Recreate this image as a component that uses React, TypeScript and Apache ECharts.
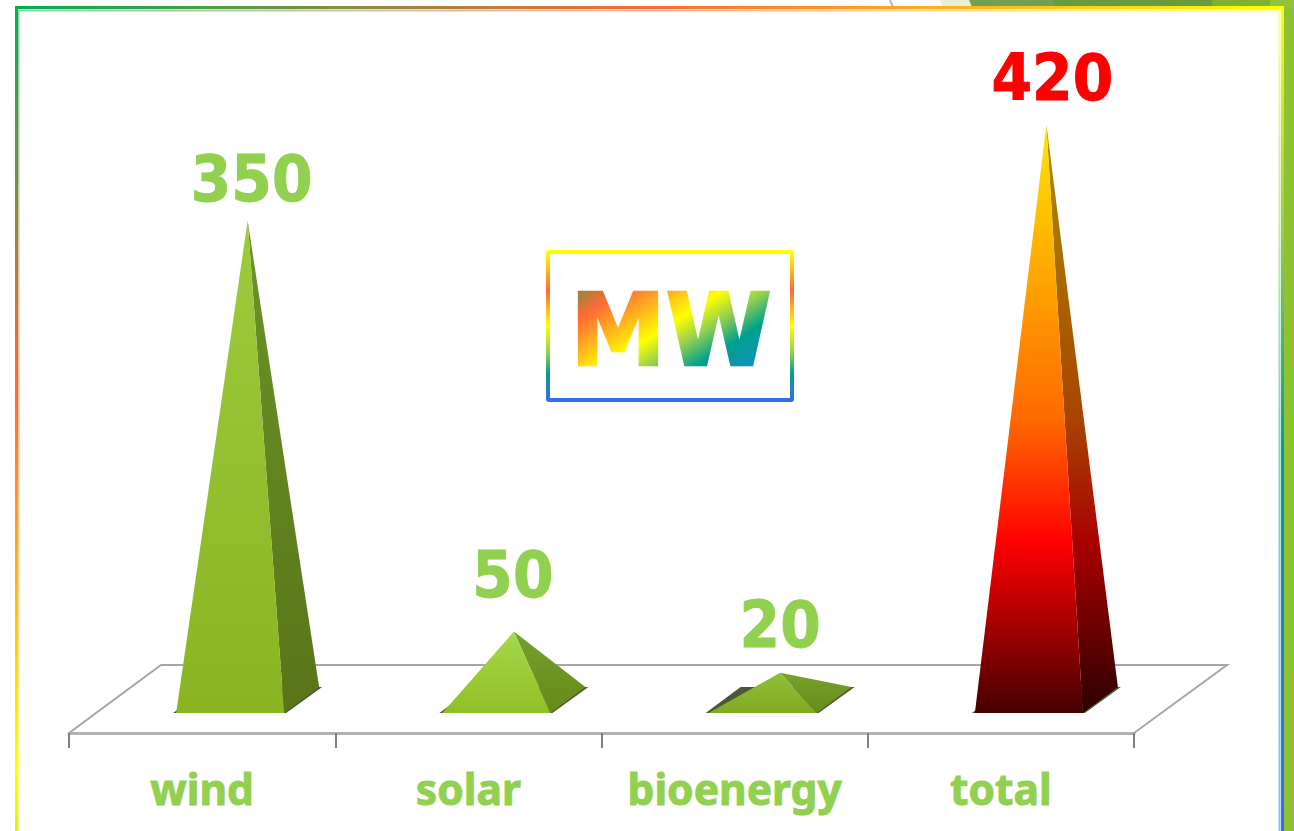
import React, { useEffect, useRef } from "react";
import * as echarts from "echarts";

const categories = ["wind", "solar", "bioenergy", "total"];
const values = [350, 50, 20, 420];
const unitLabel = "MW";

const WIDTH = 1294;
const HEIGHT = 831;
const HALF_BASE = 54;
const BASE_SHIFT_X = 28;
const DEPTH_X = 35;
const DEPTH_Y = 26;
const LABEL_DX = [4, -1, 0, 6];
const LABEL_DY = [-42, -57, -48, -47];
const LABEL_GREEN = "#92d050";
const LABEL_FONT = 'bold 64px "DejaVu Sans"';

const RAINBOW = [
  { offset: 0, color: "#00b050" },
  { offset: 0.24, color: "#ff6a35" },
  { offset: 0.48, color: "#ffff00" },
  { offset: 0.62, color: "#92d050" },
  { offset: 0.76, color: "#00a08c" },
  { offset: 1, color: "#2f6fed" },
];

const UNIT_STOPS: [number, string][] = [
  [0, "#8a8a3c"],
  [0.16, "#ff6a35"],
  [0.3, "#ffaa20"],
  [0.48, "#ffff00"],
  [0.62, "#92d050"],
  [0.77, "#00a08c"],
  [0.95, "#1090b8"],
];

const vGrad = (stops: [number, string][]) => ({
  type: "linear",
  x: 0,
  y: 0,
  x2: 0,
  y2: 1,
  colorStops: stops.map(([offset, color]) => ({ offset, color })),
});

const faces = [
  { front: [[0, "#9ccb3e"], [1, "#8ab522"]], side: [[0, "#6a9428"], [1, "#597518"]] },
  { front: [[0, "#a5d84c"], [1, "#90c024"]], side: [[0, "#76a02c"], [1, "#648a1a"]] },
  { front: [[0, "#90c038"], [1, "#80aa20"]], side: [[0, "#78a02c"], [1, "#648c18"]] },
  {
    front: [[0, "#ffe600"], [0.5, "#ff6a00"], [0.71, "#ff0000"], [1, "#450000"]],
    side: [[0, "#a89000"], [0.5, "#a84400"], [0.71, "#aa0000"], [1, "#2c0000"]],
  },
] as { front: [number, string][]; side: [number, string][] }[];

function renderPyramid(params: any, api: any) {
  const i = params.dataIndex;
  const value = api.value(1);
  const [cx, apexY] = api.coord([i, value]);
  const [, zeroY] = api.coord([i, 0]);
  const baseX = cx + BASE_SHIFT_X;
  const frontY = zeroY + DEPTH_Y / 2;
  const backY = zeroY - DEPTH_Y / 2;
  const fl = [baseX - HALF_BASE, frontY];
  const fr = [baseX + HALF_BASE, frontY];
  const br = [baseX + HALF_BASE + DEPTH_X, backY];
  const bl = [baseX - HALF_BASE + DEPTH_X, backY];
  const apex = [baseX + DEPTH_X / 2, apexY];
  const isTotal = i === categories.length - 1;
  return {
    type: "group",
    children: [
      {
        type: "polygon",
        shape: {
          points: [
            [fl[0] - 3, fl[1]],
            [fr[0] + 2, fr[1]],
            [br[0] + 3, br[1]],
            [bl[0] - 3, bl[1]],
          ],
        },
        style: { fill: "#2e3a14", opacity: 0.85 },
      },
      {
        type: "polygon",
        shape: { points: [fr, br, apex] },
        style: { fill: vGrad(faces[i].side) },
      },
      {
        type: "polygon",
        shape: { points: [fl, fr, apex] },
        style: { fill: vGrad(faces[i].front) },
      },
      {
        type: "text",
        x: apex[0] + LABEL_DX[i],
        y: apexY + LABEL_DY[i],
        scaleX: 0.91,
        style: {
          text: String(value),
          fill: isTotal ? "#ff0000" : LABEL_GREEN,
          stroke: isTotal ? "#ff0000" : LABEL_GREEN,
          lineWidth: 1,
          font: LABEL_FONT,
          align: "center",
          verticalAlign: "middle",
        },
      },
    ],
  };
}

// ECharts text has no gradient fill, so the unit text's real SVG <text> gets one here.
function paintUnitText(root: HTMLElement) {
  const svg = root.querySelector("svg");
  if (!svg) return;
  const text = Array.from(svg.querySelectorAll("text")).find((t) => t.textContent === unitLabel) as any;
  if (!text) return;
  const NS = "http://www.w3.org/2000/svg";
  const grad = document.createElementNS(NS, "linearGradient");
  grad.setAttribute("id", "unit-text-gradient");
  grad.setAttribute("gradientUnits", "userSpaceOnUse");
  grad.setAttribute("x1", "574");
  grad.setAttribute("y1", "290");
  grad.setAttribute("x2", "665");
  grad.setAttribute("y2", "432");
  const m = text.getCTM().inverse();
  grad.setAttribute("gradientTransform", `matrix(${m.a} ${m.b} ${m.c} ${m.d} ${m.e} ${m.f})`);
  UNIT_STOPS.forEach(([offset, color]) => {
    const stop = document.createElementNS(NS, "stop");
    stop.setAttribute("offset", String(offset));
    stop.setAttribute("stop-color", color);
    grad.appendChild(stop);
  });
  const defs = document.createElementNS(NS, "defs");
  defs.appendChild(grad);
  svg.appendChild(defs);
  text.setAttribute("fill", "url(#unit-text-gradient)");
  text.style.fill = "url(#unit-text-gradient)";
  text.style.stroke = "url(#unit-text-gradient)";
  text.style.strokeWidth = "2.5px";
  text.style.strokeLinejoin = "miter";
}

export default function App() {
  const ref = useRef<HTMLDivElement>(null);
  useEffect(() => {
    if (!ref.current) return;
    const chart = echarts.init(ref.current, undefined, { renderer: "svg" });
    const frameGrad = {
      type: "linear",
      global: true,
      x: 15,
      y: 8,
      x2: 713,
      y2: 1172,
      colorStops: RAINBOW,
    };
    chart.setOption({
      animation: false,
      backgroundColor: "#ffffff",
      grid: { left: 69, right: WIDTH - 1134, top: 48, bottom: HEIGHT - 733 },
      xAxis: {
        type: "category",
        data: categories,
        boundaryGap: true,
        axisLine: { onZero: false, lineStyle: { color: "#b2b2b2", width: 3 } },
        axisTick: { show: true, length: 15, lineStyle: { color: "#808080", width: 2 } },
        axisLabel: {
          interval: 0,
          color: LABEL_GREEN,
          fontFamily: "Noto Sans",
          fontWeight: "bold",
          fontSize: 42.5,
          margin: 34,
          textBorderColor: LABEL_GREEN,
          textBorderWidth: 1,
        },
      },
      yAxis: {
        type: "value",
        min: -24,
        max: 476,
        show: false,
        splitLine: { show: false },
      },
      series: [
        {
          type: "custom",
          z: 5,
          clip: false,
          renderItem: renderPyramid,
          encode: { x: 0, y: 1 },
          data: categories.map((_, i) => [i, values[i]]),
        },
      ],
      graphic: [
        { type: "rect", z: 0, shape: { x: 1284, y: 0, width: 10, height: 831 }, style: { fill: "#8fc232" } },
        { type: "polygon", z: 0, shape: { points: [[940, 0], [969, 0], [973, 7], [943, 7]] }, style: { fill: "#e6f0d6" } },
        { type: "polygon", z: 0, shape: { points: [[969, 0], [1054, 0], [1054, 7], [972, 7]] }, style: { fill: "#729f52" } },
        { type: "rect", z: 0, shape: { x: 1054, y: 0, width: 158, height: 7 }, style: { fill: "#6a9a40" } },
        { type: "rect", z: 0, shape: { x: 1212, y: 0, width: 58, height: 7 }, style: { fill: "#80b030" } },
        { type: "rect", z: 0, shape: { x: 1270, y: 0, width: 24, height: 7 }, style: { fill: "#92c33a" } },
        { type: "line", z: 0, shape: { x1: 890, y1: 0, x2: 893, y2: 7 }, style: { stroke: "#b8b8b8", lineWidth: 2 } },
        {
          type: "rect",
          z: 1,
          shape: { x: 18.5, y: 10.5, width: 1261, height: 900 },
          style: { fill: "none", stroke: frameGrad, lineWidth: 2, opacity: 0.5 },
        },
        {
          type: "rect",
          z: 1,
          shape: { x: 16.5, y: 7.5, width: 1266, height: 900 },
          style: { fill: "none", stroke: frameGrad, lineWidth: 3 },
        },
        {
          type: "polyline",
          z: 1,
          shape: { points: [[69, 733], [161, 665], [1227, 665], [1134, 733]] },
          style: { fill: "none", stroke: "#a6a6a6", lineWidth: 2 },
        },
        {
          type: "rect",
          z: 6,
          shape: { x: 548, y: 252, width: 244, height: 148, r: 1 },
          style: {
            fill: "none",
            lineWidth: 4,
            stroke: {
              type: "linear",
              x: 0,
              y: 0,
              x2: 0,
              y2: 1,
              colorStops: [
                { offset: 0, color: "#ffff00" },
                { offset: 0.26, color: "#ff6a35" },
                { offset: 0.5, color: "#ffff00" },
                { offset: 0.68, color: "#92d050" },
                { offset: 0.82, color: "#00a08c" },
                { offset: 1, color: "#2f6fed" },
              ],
            },
          },
        },
        {
          type: "text",
          z: 6,
          x: 671,
          y: 330,
          scaleX: 0.96,
          style: {
            text: unitLabel,
            font: 'bold 100px "DejaVu Sans"',
            align: "center",
            verticalAlign: "middle",
            fill: "#ff6a35",
          },
        },
      ],
    });
    paintUnitText(ref.current);
    return () => chart.dispose();
  }, []);
  return (
    <div
      ref={ref}
      style={{ position: "fixed", left: 0, top: 0, width: WIDTH, height: HEIGHT, background: "#fff" }}
    />
  );
}
